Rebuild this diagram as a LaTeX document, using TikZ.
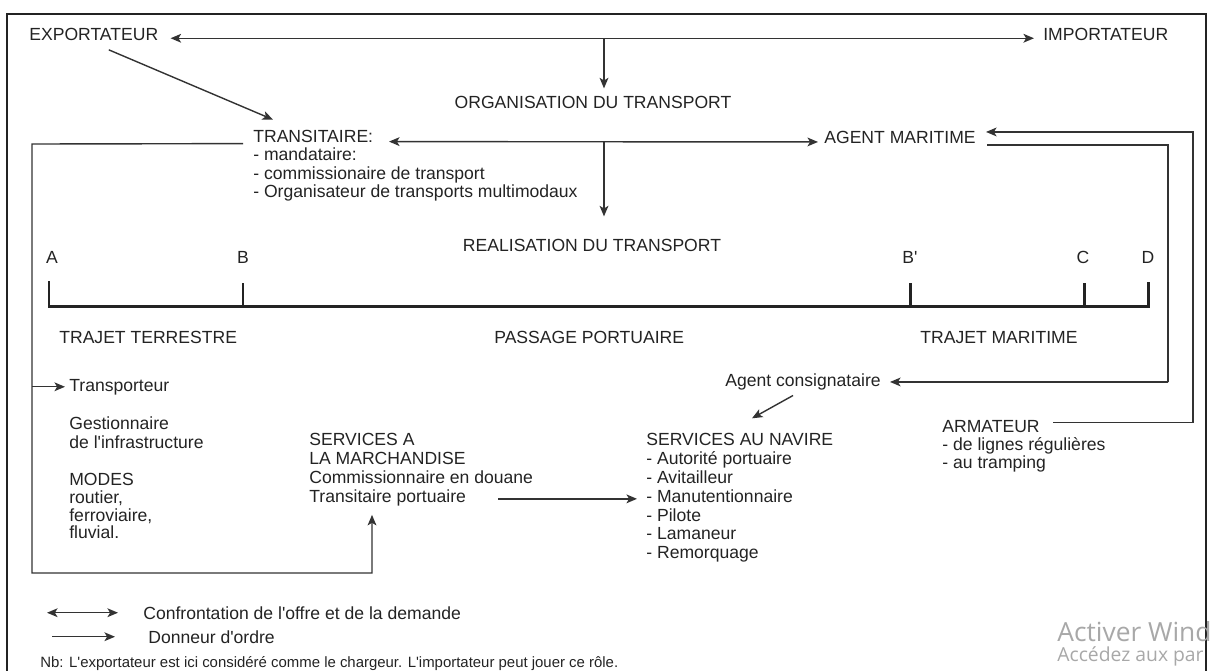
\documentclass[tikz,border=0pt]{standalone}
\usepackage{fontspec}
\setmainfont{Liberation Sans}[Ligatures=TeXOff]
\newfontfamily\winfont{Open Sans}
\usepackage{tikz}
\usetikzlibrary{arrows.meta,calc}
\definecolor{ink}{HTML}{232323}
\definecolor{wline}{HTML}{333333}
\definecolor{wmark}{HTML}{A8A8A8}
\tikzstyle{lbl}=[inner sep=0pt, anchor=base west, text=ink, align=left, font=\fontsize{10}{10.5}\selectfont]
\tikzstyle{mlbl}=[lbl, anchor=north west]
\tikzstyle{clbl}=[inner sep=0pt, anchor=base, text=ink, font=\fontsize{10}{10.5}\selectfont]
\tikzstyle{conn}=[draw=wline, line width=0.8pt]
\tikzstyle{arr}=[conn, -{Stealth[length=6pt,width=5pt,inset=1.5pt]}]
\tikzstyle{dblarr}=[conn, {Stealth[length=6pt,width=5pt,inset=1.5pt]}-{Stealth[length=6pt,width=5pt,inset=1.5pt]}]
\tikzstyle{axis}=[draw=ink, line width=1.7pt]

\begin{document}
\begin{tikzpicture}[x=0.02cm, y=-0.02cm]
	\useasboundingbox (0,0) rectangle (1210,670);
	% cadre
	\draw[draw=ink, line width=1pt] (7,680) -- (7,14) -- (1206,14) -- (1206,680);

	% organisation
	\node[lbl] (exp) at (29,40.3) {EXPORTATEUR};
	\node[lbl] (imp) at (1043,40.3) {IMPORTATEUR};
	\node[clbl] (org) at (593,108) {ORGANISATION DU TRANSPORT};
	\node[mlbl] (tra) at (253,129.6) {TRANSITAIRE:\\- mandataire:\\- commissionaire de transport\\- Organisateur de transports multimodaux};
	\node[lbl] (agm) at (824,143) {AGENT MARITIME};
	\node[clbl] (real) at (592,251) {REALISATION DU TRANSPORT};

	% trajet
	\node[clbl] (ptA) at (52,263) {A};
	\node[clbl] (ptB) at (243,263) {B};
	\node[clbl] (ptBp) at (910,263) {B'};
	\node[clbl] (ptC) at (1083,263) {C};
	\node[clbl] (ptD) at (1148,263) {D};
	\draw[axis] (49,281) -- (49,306) -- (1148,306) -- (1148,282);
	\foreach \t in {243,910,1084}
		\draw[axis] (\t,283) -- (\t,306);
	\node[lbl] (ter) at (59,343) {TRAJET TERRESTRE};
	\node[lbl] (por) at (494,343) {PASSAGE PORTUAIRE};
	\node[lbl] (mar) at (920,343) {TRAJET MARITIME};

	% acteurs
	\node[lbl] (trp) at (69,391) {Transporteur};
	\node[mlbl, font=\fontsize{10}{10.8}\selectfont] (gest) at (69,416.8) {Gestionnaire\\de l'infrastructure};
	\node[mlbl, font=\fontsize{10}{10}\selectfont] (modes) at (69,473.3) {MODES\\routier,\\ferroviaire,\\fluvial.};
	\node[lbl] (cons) at (725,386.5) {Agent consignataire};
	\node[mlbl, font=\fontsize{10}{10.8}\selectfont] (sam) at (309,433.3) {SERVICES A\\LA MARCHANDISE\\Commissionnaire en douane\\Transitaire portuaire};
	\node[mlbl, font=\fontsize{10}{10.7}\selectfont] (snav) at (646,433.3) {SERVICES AU NAVIRE\\- Autorité portuaire\\- Avitailleur\\- Manutentionnaire\\- Pilote\\- Lamaneur\\- Remorquage};
	\node[mlbl, font=\fontsize{10}{10.2}\selectfont] (arm) at (942,420.3) {ARMATEUR\\- de lignes régulières\\- au tramping};

	% connecteurs
	\draw[dblarr] ($(exp.east)+(12,4)$) -- ($(imp.west)+(-9,4)$);
	\coordinate (j1) at (604,38);
	\draw[arr] (j1) -- ($(org.north -| j1)+(0,-7)$);
	\draw[arr] ($(exp.south)+(15,9)$) -- ($(tra.north west)+(20,-10)$);
	\draw[dblarr] ($(tra.north west)+(136,12)$) -- ($(agm.west)+(-6,5)$);
	\coordinate (j2) at (604,142);
	\draw[arr] (j2) -- ($(real.north -| j2)+(0,-22)$);

	\coordinate (lt) at (32,144);
	\coordinate (lb) at (32,573);
	\coordinate (rb) at (372,573);
	\draw[arr] ($(tra.north west)+(-10,14)$) -- (lt) -- (lb) -- (rb) -- ($(sam.south west)+(63,8)$);
	\draw[arr] (trp.west -| lt) -- ($(trp.west)+(-4,0)$);

	\coordinate (ar) at (1193,132);
	\draw[arr] ($(arm.north west)+(111,2)$) -| (ar) |- ($(agm.east)+(10,-5)$);
	\coordinate (ac) at (1168,382);
	\draw[arr] ($(agm.east)+(11,8)$) -| (ac) |- ($(cons.east)+(9,0)$);
	\draw[arr] ($(cons.south)+(-10,5)$) -- ($(snav.north west)+(106,-15)$);

	\coordinate (ss) at ($(sam.south west)+(189,-8)$);
	\coordinate (st) at ($(snav.west)+(-9,0)$);
	\draw[arr] (ss) -- (ss -| st);

	% legende
	\node[lbl] (leg1) at (143,619) {Confrontation de l'offre et de la demande};
	\node[lbl] (leg2) at (148,643) {Donneur d'ordre};
	\draw[dblarr] ($(leg1.west)+(-96,0)$) -- ($(leg1.west)+(-25,0)$);
	\draw[arr] ($(leg2.west)+(-96,0)$) -- ($(leg2.west)+(-33,0)$);
	\node[lbl, font=\fontsize{8.5}{9}\selectfont] (nb) at (40,667) {Nb: L'exportateur est ici considéré comme le chargeur. L'importateur peut jouer ce rôle.};

	% filigrane
	\node[lbl, text=wmark, font=\winfont\fontsize{15}{16}\selectfont] (win1) at (1057,641) {Activer Wind};
	\node[lbl, text=wmark, font=\winfont\fontsize{11}{12}\selectfont] (win2) at (1057,661) {Accédez aux par};
\end{tikzpicture}
\end{document}
